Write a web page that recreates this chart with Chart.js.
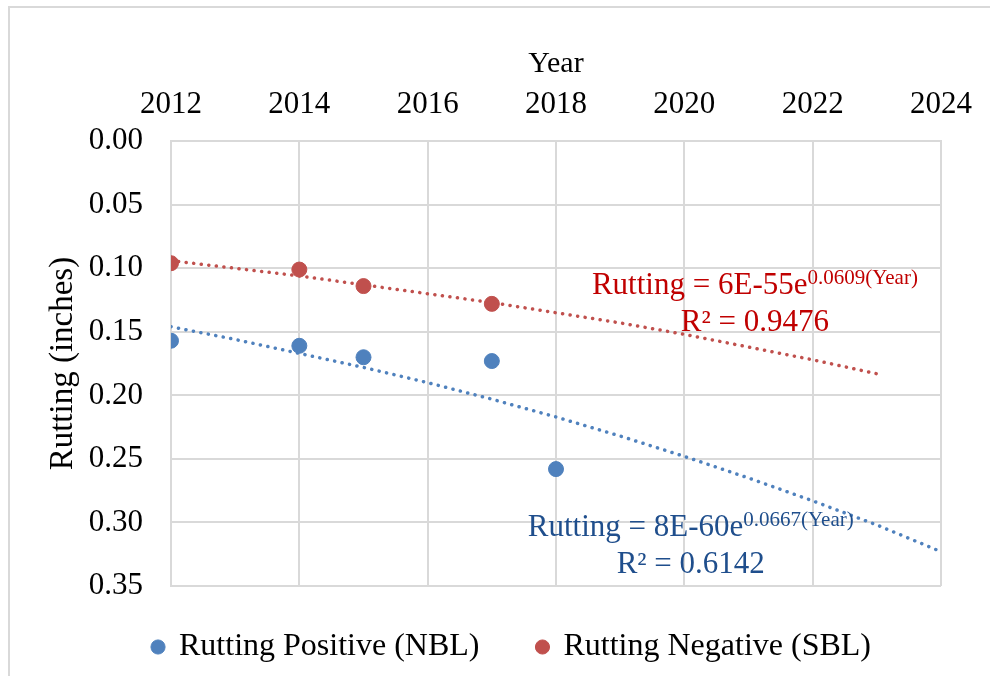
<!DOCTYPE html>
<html lang="en">
<head>
    <meta charset="UTF-8">
    <title>Rutting by Year</title>
    <script src="https://cdn.jsdelivr.net/npm/chart.js"></script>
    <style>
        html, body { margin: 0; padding: 0; background: #fff; }
        #wrap { width: 990px; height: 676px; }
    </style>
</head>
<body>
<div id="wrap"><canvas id="rutChart" width="990" height="676"></canvas></div>

<script>
    // measured rutting (inches)
    const nblYears = [2012, 2014, 2015, 2017, 2018];
    const nblRut = [0.157, 0.161, 0.170, 0.173, 0.258];
    const sblYears = [2012, 2014, 2015, 2017];
    const sblRut = [0.096, 0.101, 0.114, 0.128];

    // trendlines
    const nblTrendYears = [2012, 2013, 2014, 2015, 2016, 2017, 2018, 2019, 2020, 2021, 2022, 2023, 2024];
    const nblTrend = [0.146, 0.156, 0.167, 0.178, 0.190, 0.203, 0.217, 0.232, 0.248, 0.265, 0.283, 0.302, 0.323];
    const sblTrendYears = [2012, 2013, 2014, 2015, 2016, 2017, 2018, 2019, 2020, 2021, 2022, 2023];
    const sblTrend = [0.094, 0.100, 0.106, 0.113, 0.120, 0.127, 0.135, 0.143, 0.152, 0.162, 0.172, 0.183];

    const seriesNames = ['Rutting Positive (NBL)', 'Rutting Negative (SBL)'];
    const xTicks = [2012, 2014, 2016, 2018, 2020, 2022, 2024];
    const yTicks = [0.00, 0.05, 0.10, 0.15, 0.20, 0.25, 0.30, 0.35];

    // equation labels: [center year, baseline value, main text, superscript, r2 text]
    const sblEq = [2021.1, 0.1205, 'Rutting = 6E-55e', '0.0609(Year)', 'R² = 0.9476'];
    const nblEq = [2020.1, 0.3105, 'Rutting = 8E-60e', '0.0667(Year)', 'R² = 0.6142'];

    const FONT = "'Liberation Serif', 'Times New Roman', serif";
    const BLUE = '#4F81BD';
    const RED = '#C0504D';
    const GRID = '#D9D9D9';
    const LEGEND_SHIFT = 36;

    const pts = (xs, ys) => xs.map((x, i) => ({ x: x, y: ys[i] }));

    // outer chart frame, legend nudge, equation text
    const extras = {
        id: 'extras',
        afterLayout(chart) {
            chart.legend.left += LEGEND_SHIFT;
            chart.legend.right += LEGEND_SHIFT;
        },
        beforeDraw(chart) {
            const c = chart.ctx;
            c.save();
            c.strokeStyle = GRID;
            c.lineWidth = 2;
            c.strokeRect(9, 7, 1000, 700);
            c.restore();
        },
        afterDraw(chart) {
            const c = chart.ctx;
            const sx = chart.scales.x, sy = chart.scales.y;
            const drawEq = (eq, color) => {
                const cx = sx.getPixelForValue(eq[0]);
                const by = sy.getPixelForValue(eq[1]);
                c.save();
                c.fillStyle = color;
                c.textBaseline = 'alphabetic';
                c.font = '31px ' + FONT;
                const w1 = c.measureText(eq[2]).width;
                c.font = '21px ' + FONT;
                const w2 = c.measureText(eq[3]).width;
                const x0 = cx - (w1 + w2) / 2;
                c.font = '31px ' + FONT;
                c.textAlign = 'left';
                c.fillText(eq[2], x0, by);
                c.font = '21px ' + FONT;
                c.fillText(eq[3], x0 + w1, by - 10);
                c.font = '31px ' + FONT;
                c.textAlign = 'center';
                c.fillText(eq[4], cx, by + 37);
                c.restore();
            };
            drawEq(sblEq, '#C00000');
            drawEq(nblEq, '#1F4E8C');
        }
    };

    const trendStyle = {
        type: 'line',
        showLine: true,
        pointRadius: 0,
        borderWidth: 3.5,
        borderDash: [0.1, 7.5],
        borderCapStyle: 'round',
        fill: false,
        tension: 0
    };

    new Chart(document.getElementById('rutChart'), {
        type: 'scatter',
        data: {
            datasets: [
                {
                    label: seriesNames[0],
                    data: pts(nblYears, nblRut),
                    backgroundColor: BLUE,
                    borderColor: BLUE,
                    pointRadius: 7.5,
                    pointHoverRadius: 7.5,
                    order: 1
                },
                {
                    label: seriesNames[1],
                    data: pts(sblYears, sblRut),
                    backgroundColor: RED,
                    borderColor: RED,
                    pointRadius: 7.5,
                    pointHoverRadius: 7.5,
                    order: 1
                },
                Object.assign({ label: 'trendNBL', data: pts(nblTrendYears, nblTrend), borderColor: BLUE, order: 2 }, trendStyle),
                Object.assign({ label: 'trendSBL', data: pts(sblTrendYears, sblTrend), borderColor: RED, order: 2 }, trendStyle)
            ]
        },
        options: {
            responsive: false,
            animation: false,
            layout: { padding: { left: 10, right: 48, top: 40, bottom: 3 } },
            plugins: {
                tooltip: { enabled: false },
                legend: {
                    position: 'bottom',
                    labels: {
                        filter: item => item.datasetIndex < 2,
                        generateLabels: chart => Chart.defaults.plugins.legend.labels.generateLabels(chart)
                            .map((it, i) => Object.assign(it, { text: i === 0 ? it.text + '    ' : it.text })),
                        usePointStyle: true,
                        pointStyle: 'circle',
                        boxWidth: 10,
                        boxHeight: 10,
                        padding: 26,
                        color: '#000',
                        font: { family: FONT, size: 32 }
                    }
                }
            },
            scales: {
                x: {
                    type: 'linear',
                    position: 'top',
                    min: 2012,
                    max: 2024,
                    afterBuildTicks: s => { s.ticks = xTicks.map(v => ({ value: v })); },
                    ticks: { color: '#000', font: { family: FONT, size: 31 }, padding: 18, maxRotation: 0, callback: v => String(v) },
                    grid: { color: GRID, lineWidth: 2, drawTicks: false },
                    border: { display: true, color: GRID, width: 2 },
                    title: { display: true, text: 'Year', color: '#000', font: { family: FONT, size: 30 }, padding: { top: 6, bottom: -14 } }
                },
                xb: {
                    type: 'linear',
                    position: 'bottom',
                    display: true,
                    min: 2012,
                    max: 2024,
                    ticks: { display: false },
                    grid: { display: false, drawTicks: false },
                    border: { display: false },
                    afterFit: s => { s.height = 19; }
                },
                y: {
                    type: 'linear',
                    reverse: true,
                    min: 0,
                    max: 0.35,
                    afterBuildTicks: s => { s.ticks = yTicks.map(v => ({ value: v })); },
                    afterFit: s => { s.width = 161; },
                    ticks: { color: '#000', font: { family: FONT, size: 31 }, padding: 28, callback: v => v.toFixed(2) },
                    grid: { color: GRID, lineWidth: 2, drawTicks: false },
                    border: { display: true, color: GRID, width: 2 },
                    title: { display: true, text: 'Rutting (inches)', color: '#000', font: { family: FONT, size: 33 }, padding: { top: 34, bottom: 0 } }
                }
            }
        },
        plugins: [extras]
    });
</script>
</body>
</html>
